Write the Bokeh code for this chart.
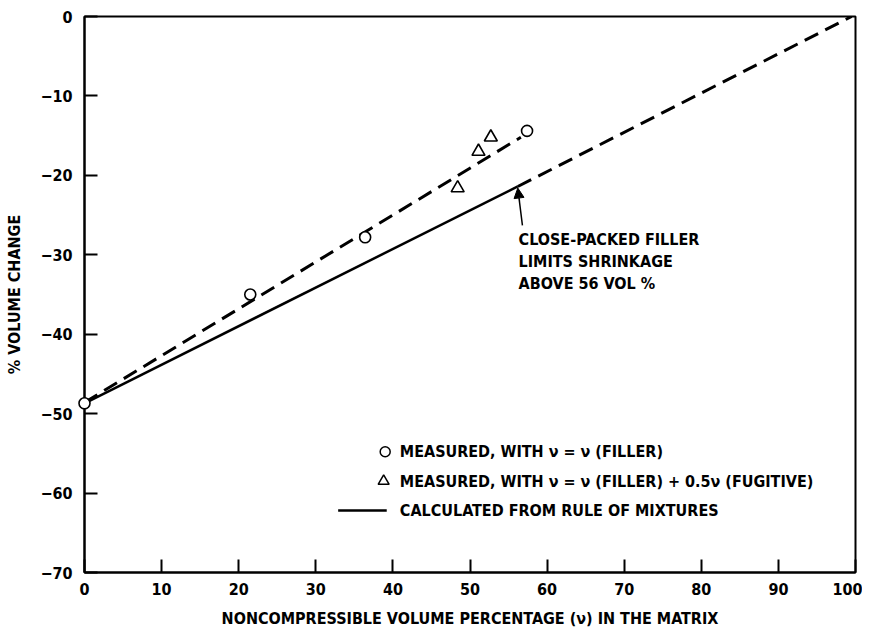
from bokeh.plotting import figure
from bokeh.models import Range1d, Label, Arrow, NormalHead
from bokeh.embed import file_html
from bokeh.resources import INLINE

# ---- data ----
filler_x = [0, 21.5, 36.4, 57.4]
filler_y = [-48.7, -35.0, -27.8, -14.4]
fugitive_x = [48.4, 51.1, 52.7]
fugitive_y = [-21.6, -17.0, -15.2]
trend_x = [0, 56.6]
trend_y = [-48.6, -15.2]
calc_x = [0, 56.2]
calc_y = [-48.7, -21.4]
calc_ext_x = [56.2, 99.5]
calc_ext_y = [-21.4, 0.0]
x_ticks = list(range(0, 101, 10))
y_ticks = list(range(-70, 1, 10))
legend_labels = [
    "MEASURED, WITH \u03bd = \u03bd (FILLER)",
    "MEASURED, WITH \u03bd = \u03bd (FILLER) + 0.5\u03bd (FUGITIVE)",
    "CALCULATED FROM RULE OF MIXTURES",
]
note_text = "CLOSE-PACKED FILLER\nLIMITS SHRINKAGE\nABOVE 56 VOL %"

FONT = "'DejaVu Sans Condensed', 'Liberation Sans Narrow', 'Roboto Condensed', 'Liberation Sans', sans-serif"

p = figure(width=862, height=630, output_backend="svg", toolbar_location=None,
           x_range=Range1d(0, 100), y_range=Range1d(-70, 0),
           min_border_left=84, min_border_right=7, min_border_top=16, min_border_bottom=57)
p.grid.visible = False
p.outline_line_color = "black"
p.outline_line_width = 2
p.background_fill_color = "white"

for ax in (p.xaxis[0], p.yaxis[0]):
    ax.axis_line_width = 2
    ax.axis_line_color = "black"
    ax.major_tick_in = 13
    ax.major_tick_out = 0
    ax.major_tick_line_width = 2
    ax.minor_tick_line_color = None
    ax.major_label_text_font = FONT
    ax.major_label_text_font_style = "bold"
    ax.major_label_text_font_size = "16px"
    ax.major_label_text_color = "black"
    ax.axis_label_text_font = FONT
    ax.axis_label_text_font_style = "bold"
    ax.axis_label_text_font_size = "16px"
    ax.axis_label_text_color = "black"

p.xaxis.ticker = x_ticks
p.yaxis.ticker = y_ticks
p.yaxis.major_label_overrides = {t: ("\u2212" + str(-t) if t < 0 else str(t)) for t in y_ticks}
p.xaxis.major_label_standoff = 10
p.yaxis.major_label_standoff = 12
p.xaxis.axis_label = "NONCOMPRESSIBLE VOLUME PERCENTAGE (\u03bd) IN THE MATRIX"
p.yaxis.axis_label = "% VOLUME CHANGE"
p.xaxis.axis_label_standoff = 11
p.yaxis.axis_label_standoff = 13

# lines
p.line(calc_x, calc_y, line_color="black", line_width=2.5)
p.line(calc_ext_x, calc_ext_y, line_color="black", line_width=3, line_dash="15 8")
p.line(trend_x, trend_y, line_color="black", line_width=3, line_dash="15 8")

# markers
p.scatter(filler_x, filler_y, marker="circle", size=11, fill_color="white",
          line_color="black", line_width=1.6, level="overlay")
p.scatter(fugitive_x, fugitive_y, marker="triangle", size=13, fill_color="white",
          line_color="black", line_width=1.6)

# annotation
p.add_layout(Arrow(end=NormalHead(size=10, fill_color="black", line_color="black"),
                   x_start=56.8, y_start=-26.3, x_end=56.2, y_end=-21.6,
                   line_color="black", line_width=1.5))
p.add_layout(Label(x=56.3, y=-26.9, text=note_text, text_font=FONT,
                   text_font_style="bold", text_font_size="16px", text_color="black",
                   text_baseline="top", text_align="left", text_line_height=1.15))

# legend (manual)
leg_y = [-54.8, -58.5, -62.2]
p.scatter([39.0], [leg_y[0]], marker="circle", size=10, fill_color="white",
          line_color="black", line_width=1.5)
p.scatter([38.8], [leg_y[1]], marker="triangle", size=11, fill_color="white",
          line_color="black", line_width=1.5)
p.line([32.9, 39.2], [leg_y[2], leg_y[2]], line_color="black", line_width=2.5)
for yy, lab in zip(leg_y, legend_labels):
    p.add_layout(Label(x=40.9, y=yy, text=lab, text_font=FONT,
                       text_font_style="bold", text_font_size="16px", text_color="black",
                       text_baseline="middle", text_align="left"))

open("out.html", "w").write(file_html(p, INLINE))
